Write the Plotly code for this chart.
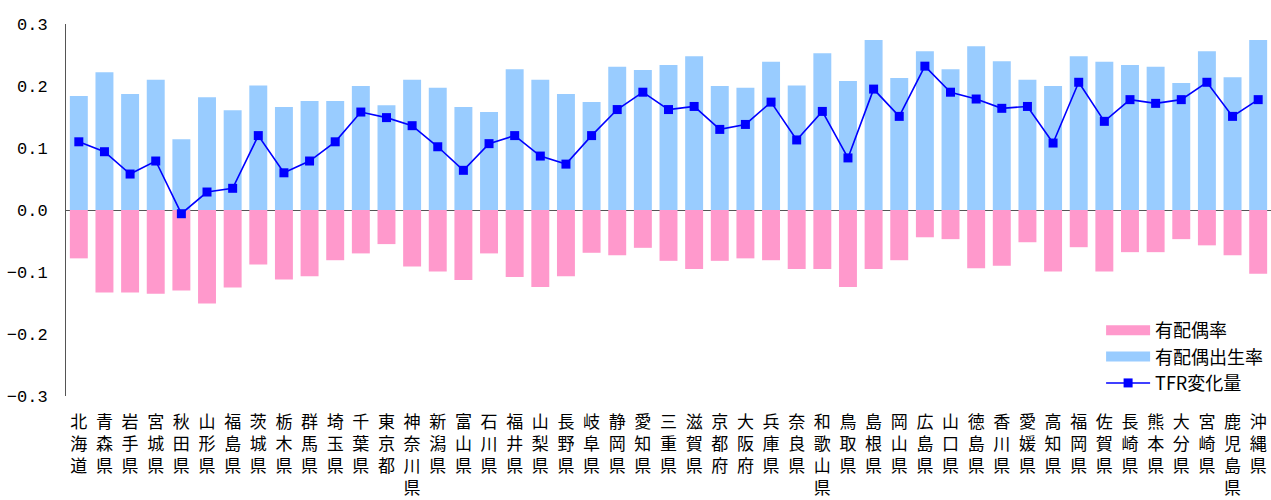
import plotly.graph_objects as go

prefectures = ["北海道","青森県","岩手県","宮城県","秋田県","山形県","福島県","茨城県","栃木県","群馬県",
               "埼玉県","千葉県","東京都","神奈川県","新潟県","富山県","石川県","福井県","山梨県","長野県",
               "岐阜県","静岡県","愛知県","三重県","滋賀県","京都府","大阪府","兵庫県","奈良県","和歌山県",
               "鳥取県","島根県","岡山県","広島県","山口県","徳島県","香川県","愛媛県","高知県","福岡県",
               "佐賀県","長崎県","熊本県","大分県","宮崎県","鹿児島県","沖縄県"]

marriage_rate = [-0.078,-0.133,-0.133,-0.135,-0.130,-0.151,-0.125,-0.088,-0.112,-0.107,
                 -0.081,-0.070,-0.055,-0.091,-0.099,-0.113,-0.070,-0.108,-0.124,-0.107,
                 -0.069,-0.073,-0.061,-0.082,-0.095,-0.082,-0.078,-0.081,-0.095,-0.095,
                 -0.124,-0.095,-0.081,-0.044,-0.047,-0.094,-0.090,-0.052,-0.099,-0.060,
                 -0.099,-0.068,-0.068,-0.047,-0.057,-0.073,-0.103]

marital_fertility = [0.184,0.222,0.187,0.210,0.114,0.182,0.161,0.201,0.166,0.176,
                     0.176,0.200,0.169,0.210,0.197,0.166,0.158,0.227,0.210,0.187,
                     0.174,0.231,0.226,0.234,0.248,0.200,0.197,0.239,0.201,0.253,
                     0.208,0.274,0.213,0.256,0.227,0.264,0.240,0.210,0.200,0.248,
                     0.239,0.234,0.231,0.205,0.256,0.214,0.274]

tfr_change = [0.110,0.094,0.058,0.079,-0.006,0.029,0.035,0.120,0.060,0.079,
              0.110,0.158,0.149,0.136,0.102,0.064,0.107,0.120,0.087,0.074,
              0.120,0.162,0.190,0.162,0.167,0.130,0.138,0.174,0.113,0.159,
              0.084,0.195,0.151,0.232,0.190,0.179,0.164,0.167,0.108,0.206,
              0.143,0.178,0.172,0.178,0.206,0.151,0.178]

series_names = ["有配偶率", "有配偶出生率", "TFR変化量"]
PINK = "#FF99CC"
BLUE = "#99CCFF"
LINE = "#0000FF"

tick_labels = ["<br>".join(list(p)) for p in prefectures]

FONT = "Noto Sans CJK JP"

fig = go.Figure()
fig.add_trace(go.Bar(x=prefectures, y=marriage_rate, name=series_names[0], showlegend=False,
                     marker=dict(color=PINK, line=dict(width=0))))
fig.add_trace(go.Bar(x=prefectures, y=marital_fertility, name=series_names[1], showlegend=False,
                     marker=dict(color=BLUE, line=dict(width=0))))
# legend entries (wide swatches like the reference)
fig.add_trace(go.Scatter(x=[None], y=[None], name=series_names[0], mode="lines",
                         line=dict(color=PINK, width=13)))
fig.add_trace(go.Scatter(x=[None], y=[None], name=series_names[1], mode="lines",
                         line=dict(color=BLUE, width=13)))
fig.add_trace(go.Scatter(x=prefectures, y=tfr_change, name=series_names[2], mode="lines+markers",
                         line=dict(color=LINE, width=1.6),
                         marker=dict(symbol="square", size=9, color=LINE)))

fig.update_layout(
    width=1271, height=500,
    margin=dict(l=66, r=0, t=24, b=104, autoexpand=False),
    barmode="relative", bargap=0.3,
    plot_bgcolor="white", paper_bgcolor="white",
    font=dict(family=FONT, size=17, color="#000000"),
    showlegend=True,
    legend=dict(x=0.859, y=0.226, xanchor="left", yanchor="top",
                bgcolor="rgba(255,255,255,0)", font=dict(size=18, family=FONT),
                traceorder="normal", itemwidth=44, tracegroupgap=0),
)
fig.update_xaxes(tickmode="array", tickvals=prefectures, ticktext=tick_labels,
                 range=[-0.5, len(prefectures) - 0.5], automargin=False,
                 showgrid=False, showline=False, ticks="", tickangle=0,
                 ticklabelstandoff=14,
                 tickfont=dict(size=17, family=FONT))
fig.update_yaxes(range=[-0.3, 0.3], dtick=0.1, tickformat=".1f", automargin=False,
                 showgrid=False, showline=True, linecolor="#555555", linewidth=1,
                 zeroline=True, zerolinecolor="#555555", zerolinewidth=1,
                 ticks="", ticklabelstandoff=14,
                 tickfont=dict(size=17, family="Liberation Mono"))

fig.write_html("out.html")
